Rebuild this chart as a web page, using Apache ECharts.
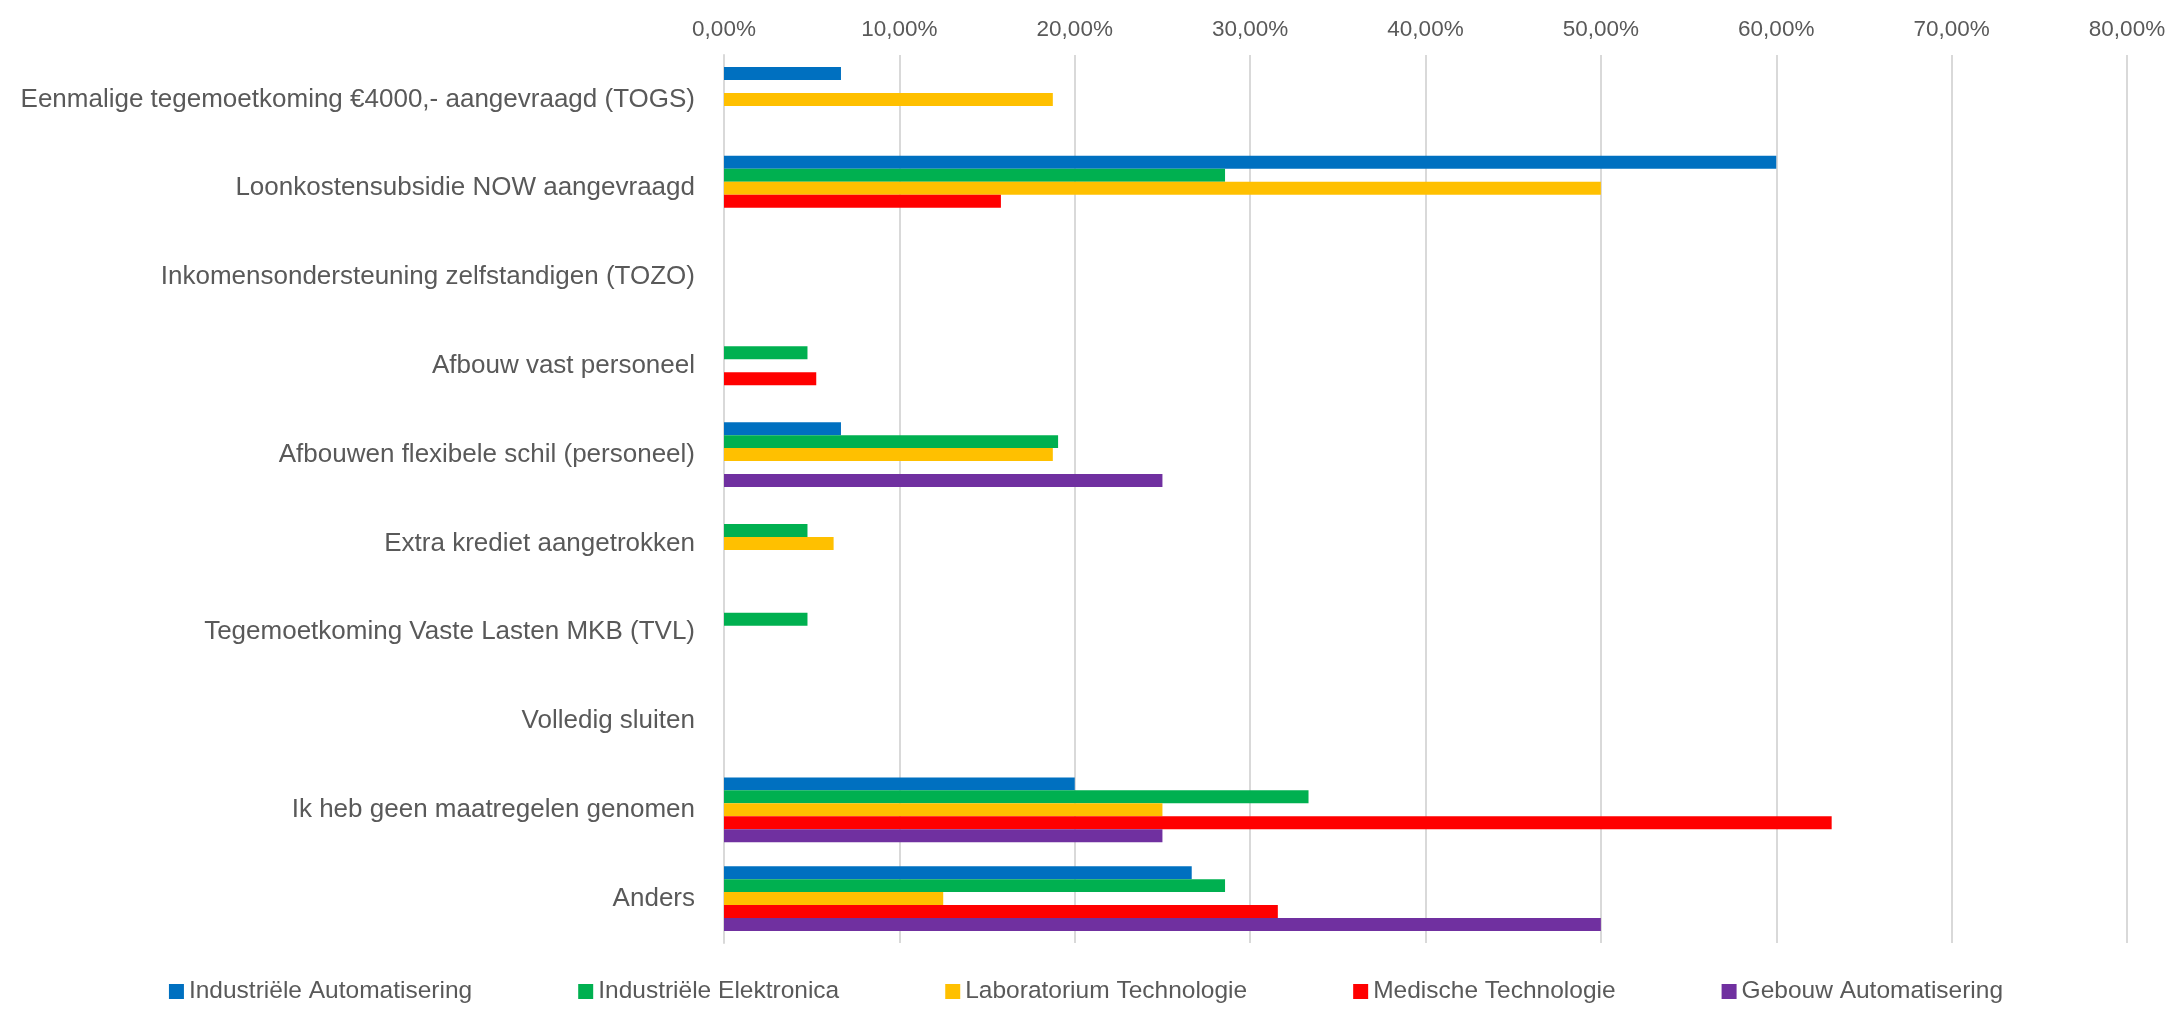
<!DOCTYPE html>
<html><head><meta charset="utf-8">
<script src="https://cdn.jsdelivr.net/npm/echarts@6/dist/echarts.min.js"></script>
<style>html,body{margin:0;padding:0;background:#fff}#c{width:2172px;height:1012px}</style>
</head><body><div id="c"></div>
<script>
const categories = [
  "Eenmalige tegemoetkoming €4000,- aangevraagd (TOGS)",
  "Loonkostensubsidie NOW aangevraagd",
  "Inkomensondersteuning zelfstandigen (TOZO)",
  "Afbouw vast personeel",
  "Afbouwen flexibele schil (personeel)",
  "Extra krediet aangetrokken",
  "Tegemoetkoming Vaste Lasten MKB (TVL)",
  "Volledig sluiten",
  "Ik heb geen maatregelen genomen",
  "Anders"
];
const seriesNames = ["Industriële Automatisering","Industriële Elektronica","Laboratorium Technologie","Medische Technologie","Gebouw Automatisering"];
const industrieleAutomatisering = [6.67, 60.00, 0, 0, 6.67, 0, 0, 0, 20.00, 26.67];
const industrieleElektronica   = [0, 28.57, 0, 4.76, 19.05, 4.76, 4.76, 0, 33.33, 28.57];
const laboratoriumTechnologie  = [18.75, 50.00, 0, 0, 18.75, 6.25, 0, 0, 25.00, 12.50];
const medischeTechnologie      = [0, 15.79, 0, 5.26, 0, 0, 0, 0, 63.16, 31.58];
const gebouwAutomatisering     = [0, 0, 0, 0, 25.00, 0, 0, 0, 25.00, 50.00];
const colors = ["#0070C0","#00B050","#FFC000","#FF0000","#7030A0"];
const values = [industrieleAutomatisering, industrieleElektronica, laboratoriumTechnologie, medischeTechnologie, gebouwAutomatisering];

const font = "Liberation Sans";
const chart = echarts.init(document.getElementById('c'));
chart.setOption({
  animation: false,
  color: colors,
  grid: {left: 724, right: 45, top: 55, bottom: 69},
  legend: {
    bottom: 3, left: 'center', itemWidth: 15, itemHeight: 15, itemGap: 106, icon: 'rect',
    textStyle: {fontFamily: font, fontSize: 24.5, color: '#595959'},
    data: seriesNames
  },
  xAxis: {
    type: 'value', position: 'top', min: 0, max: 80, interval: 10,
    axisLine: {show: false}, axisTick: {show: false},
    splitLine: {lineStyle: {color: '#D9D9D9', width: 2}},
    axisLabel: {fontFamily: font, fontSize: 22.5, color: '#595959', margin: 14,
      formatter: v => v.toFixed(2).replace('.', ',') + '%'}
  },
  yAxis: {
    type: 'category', inverse: true, data: categories,
    axisLine: {show: true, lineStyle: {color: '#D9D9D9', width: 2}},
    axisTick: {show: false},
    axisLabel: {fontFamily: font, fontSize: 26, color: '#595959', margin: 29}
  },
  series: seriesNames.map((n, i) => ({
    name: n, type: 'bar', data: values[i], barGap: '0%', barCategoryGap: '27%',
    itemStyle: {color: colors[i]}
  }))
});
</script></body></html>
